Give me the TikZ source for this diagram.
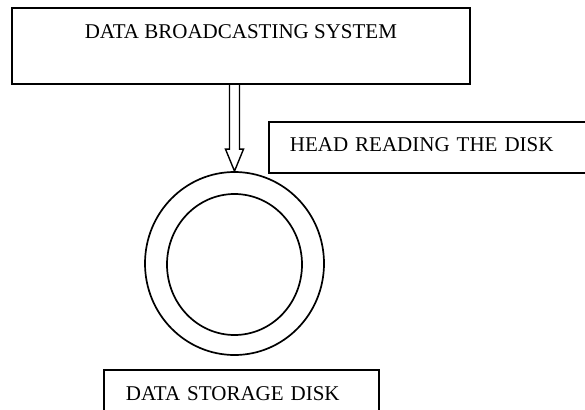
\documentclass[tikz,border=0pt]{standalone}
\usepackage{fontspec}
\setmainfont{Liberation Serif}
\usetikzlibrary{shapes.geometric,calc}

\begin{document}
\begin{tikzpicture}[x = 1pt, y = -1pt,
  box/.style = {draw, line width = 1.8pt, inner sep = 0pt, font = \fontsize{21}{25}\selectfont},
  ring/.style = {draw, ellipse, line width = 1.7pt, inner sep = 0pt},
  hollow/.style = {draw, line width = 1.4pt, line join = miter}]
% Fix page size
\useasboundingbox (0,0) rectangle (585,409);
\clip (0,0) rectangle (585,409);

% Create system box
\node[box, anchor = north west, minimum width = 458pt, text height = 31pt, text depth = 45pt] (system) at (11,7) {DATA BROADCASTING SYSTEM};

% Create head box (runs off the page)
\node[box, anchor = north west, text width = 330pt, inner xsep = 21pt, text height = 30pt, text depth = 21pt] (head) at (268,121) {HEAD READING THE DISK};

% Create disk rings
\node[ring, minimum width = 179pt, minimum height = 183pt] (disk) at (234.5,263.5) {};
\node[ring, minimum width = 135pt, minimum height = 141pt] (core) at (234.5,264.5) {};

% Create storage box
\node[box, anchor = north west, text width = 231pt, inner xsep = 22pt, text height = 31pt, text depth = 30pt] (storage) at (103,369) {DATA STORAGE DISK};

% Hollow arrow from system to disk
\draw[hollow] ($(disk.north |- system.south)+(-5,0)$) -- ($(disk.north)+(-5,-22)$) -- ++(-4,0)
  -- (disk.north) -- ++(9,-22) -- ++(-4,0) -- ($(disk.north |- system.south)+(5,0)$);

\end{tikzpicture}
\end{document}
